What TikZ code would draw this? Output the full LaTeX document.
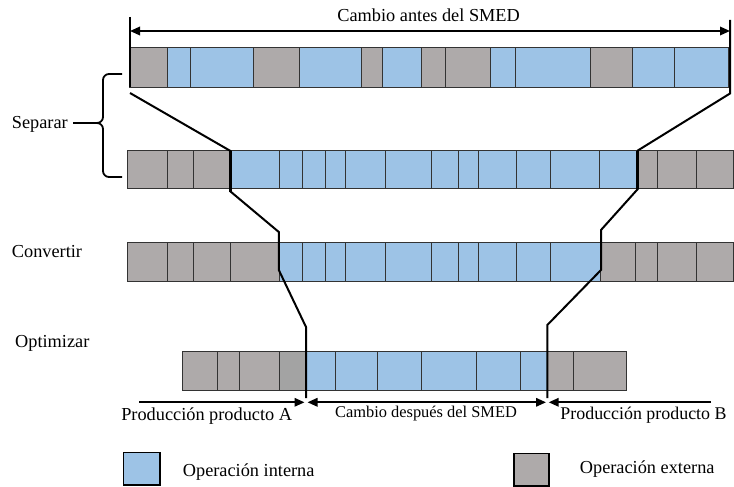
\documentclass[tikz,border=0pt]{standalone}
\usepackage{fontspec}
\setmainfont{Liberation Serif}
\usetikzlibrary{arrows.meta}
\definecolor{intblue}{HTML}{9DC3E6}
\definecolor{extgray}{HTML}{AEAAAA}
\definecolor{extdark}{HTML}{A3A3A3}
% one row of operations: top y, bottom y, list of left/right/colour
\newcommand\smedrow[3]{%
  \foreach \xa/\xb/\fc in {#3}{\path[seg,fill=\fc] (\xa,#1) rectangle (\xb,#2);}}
\tikzset{
  seg/.style={draw=black!80,line width=0.8pt},
  link/.style={line width=2pt},
  bound/.style={line width=2.8pt},
  dimline/.style={line width=1.8pt},
  tip/.tip={Triangle[length=10pt,width=8.5pt]},
  brace/.style={line width=1.8pt},
  legbox/.style={draw=black,line width=1.6pt},
  lbl/.style={font=\fontsize{18.3}{22}\selectfont,inner sep=0pt},
  lblsm/.style={font=\fontsize{16.4}{20}\selectfont,inner sep=0pt},
}
\begin{document}
\begin{tikzpicture}[x=1pt,y=-1pt]
\useasboundingbox (0,0) rectangle (734,487);

% rows of operations
\smedrow{47}{87}{129.5/167.7/extgray,167.7/190.7/intblue,190.7/253.3/intblue,
  253.3/299.3/extgray,299.3/361.7/intblue,361.7/382.3/extgray,382.3/421/intblue,
  421/445/extgray,445/490/extgray,490/515.7/intblue,515.7/590/intblue,
  590/632.7/extgray,632.7/674.3/intblue,674.3/728.5/intblue}
\smedrow{150}{188.5}{127.5/167/extgray,167/193.3/extgray,193.3/230.5/extgray,
  230.5/279.3/intblue,279.3/302.3/intblue,302.3/325.7/intblue,325.7/345.5/intblue,
  345.5/385.7/intblue,385.7/431.7/intblue,431.7/458.3/intblue,458.3/478.7/intblue,
  478.7/516.7/intblue,516.7/550.7/intblue,550.7/599.7/intblue,599.7/637.8/intblue,
  637.8/657.5/extgray,657.5/696.5/extgray,696.5/733.5/extgray}
\smedrow{242.7}{281.7}{127.5/167/extgray,167/193.3/extgray,193.3/230.5/extgray,
  230.5/279/extgray,279/302.3/intblue,302.3/325.7/intblue,325.7/345.5/intblue,
  345.5/385.7/intblue,385.7/431.7/intblue,431.7/458.3/intblue,458.3/478.7/intblue,
  478.7/516.7/intblue,516.7/550.7/intblue,550.7/600.8/intblue,
  600.8/635.5/extgray,635.5/657.5/extgray,657.5/696.5/extgray,696.5/733.5/extgray}
\smedrow{351}{390.5}{182.7/217.7/extgray,217.7/239.3/extgray,239.3/279.3/extgray,
  279.3/305/extdark,305/335.7/intblue,335.7/377.5/intblue,377.5/421.7/intblue,
  421.7/476/intblue,476/520.7/intblue,520.7/547/intblue,547/573.3/extgray,
  573.3/626/extgray}

% left limit of the changeover through the steps
\coordinate (a0) at (130,17);
\coordinate (a1) at (130,87);
\coordinate (a2) at (130,93);
\coordinate (a3) at (230.5,151);
\coordinate (a4) at (230.5,191.5);
\coordinate (a5) at (278.8,232);
\coordinate (a6) at (278.8,270);
\coordinate (a7) at (306,327);
\coordinate (a8) at (306,398);
\draw[bound] (a0) -- (a1);
\draw[link] (a2) -- (a3) -- (a4) -- (a5) -- (a6) -- (a7) -- (a8);
\draw[bound] (a3) -- (a4);

% right limit of the changeover through the steps
\coordinate (b0) at (730,20);
\coordinate (b1) at (730,93.5);
\coordinate (b2) at (637.8,150.5);
\coordinate (b3) at (637.8,189);
\coordinate (b4) at (601,230);
\coordinate (b5) at (601,270);
\coordinate (b6) at (547.3,325);
\coordinate (b7) at (547.3,398);
\draw[link] (b0) -- (b1) -- (b2) -- (b3) -- (b4) -- (b5) -- (b6) -- (b7);
\draw[bound] (b2) -- (b3);

% duration before SMED
\coordinate (tl) at (130,31);
\coordinate (tr) at (730,31);
\draw[dimline,tip-tip] (tl) -- (tr);
\node[lbl,anchor=base] (tAntes) at (428.6,22) {Cambio antes del SMED};

% durations after SMED
\coordinate (pa0) at (139,402.3);
\coordinate (pa1) at (304.5,402.3);
\coordinate (cs0) at (307.5,402.3);
\coordinate (cs1) at (546,402.3);
\coordinate (pb0) at (711,402.3);
\coordinate (pb1) at (548.7,402.3);
\draw[dimline,-tip] (pa0) -- (pa1);
\draw[dimline,tip-tip] (cs0) -- (cs1);
\draw[dimline,-tip] (pb0) -- (pb1);
\node[lbl,anchor=base] (tA) at (206.7,420.5) {Producción producto A};
\node[lblsm,anchor=base] (tDesp) at (426,417.6) {Cambio después del SMED};
\node[lbl,anchor=base,font=\fontsize{17.9}{22}\selectfont] (tB) at (643.5,419.5) {Producción producto B};

% step labels
\node[lbl,anchor=base west] (tSep) at (11.7,128.5) {Separar};
\node[lbl,anchor=base west] (tConv) at (11.7,257.3) {Convertir};
\node[lbl,anchor=base west] (tOpt) at (15,347.7) {Optimizar};
\draw[brace] (122,74) -- (109,74) to[out=180,in=90] (103,80) -- (103,117)
  to[out=-90,in=0] (97,123) -- (73,123);
\draw[brace] (97,123) to[out=0,in=90] (103,129) -- (103,171)
  to[out=-90,in=180] (109,177) -- (122,177);

% legend
\draw[legbox,fill=intblue] (123.5,452.5) rectangle (160,485);
\node[lbl,anchor=base west] (tInt) at (182.7,476) {Operación interna};
\draw[legbox,fill=extgray] (514,453.3) rectangle (549,486);
\node[lbl,anchor=base west] (tExt) at (579.7,473.5) {Operación externa};
\end{tikzpicture}
\end{document}
